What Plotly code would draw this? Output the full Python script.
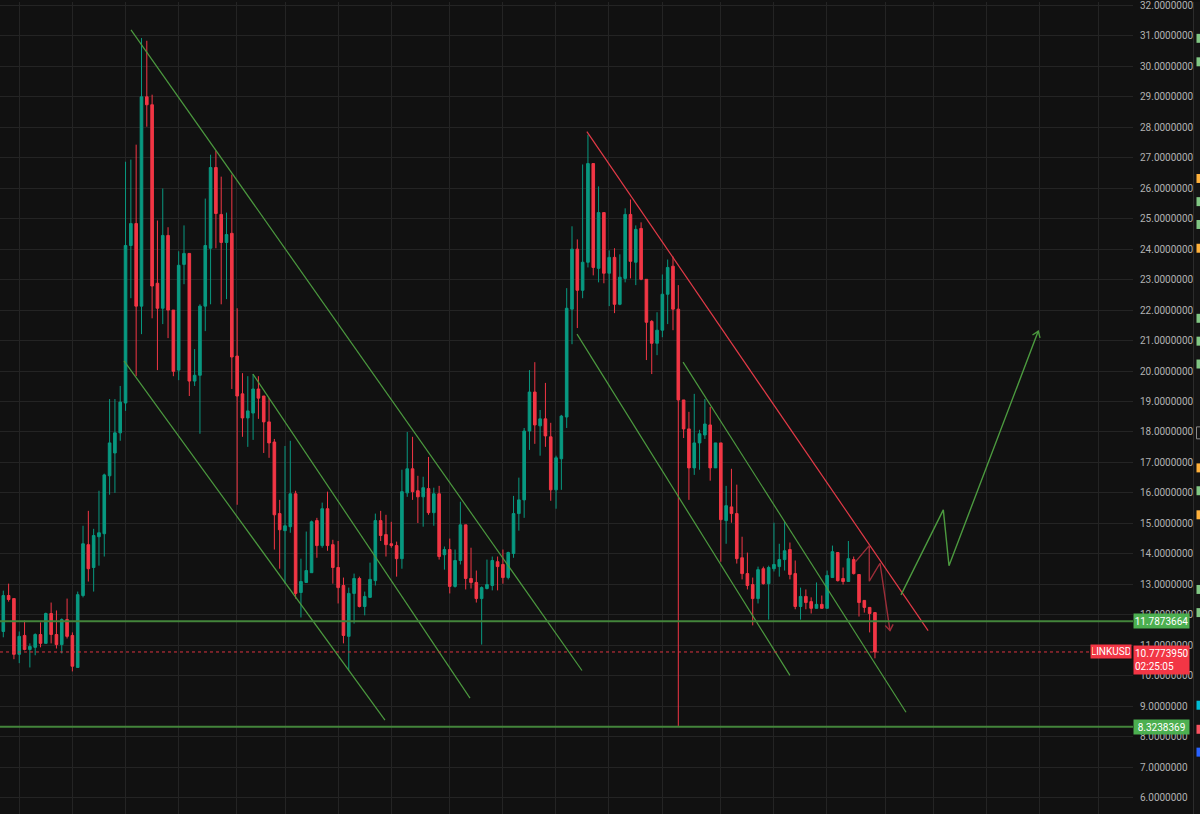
import math
import plotly.graph_objects as go

# ---------------- data (3-day candles, LINKUSD) ----------------
opens = [11.45,12.63,12.53,10.70,11.32,10.86,10.93,11.35,11.06,12.04,11.35,11.02,11.84,11.32,10.27,12.63,14.30,13.55,14.56,14.66,
         16.56,17.31,17.97,18.95,24.12,24.84,22.13,29.00,28.74,22.88,22.06,24.45,22.00,20.03,23.50,23.86,19.67,19.86,22.13,24.03,
         26.68,25.14,24.22,24.52,20.49,19.25,18.46,18.62,19.41,19.18,18.33,17.67,15.32,14.76,14.89,15.97,12.73,13.06,13.38,15.09,
         14.27,15.48,14.30,13.55,12.96,11.29,12.70,13.19,12.27,12.57,13.12,15.09,14.63,14.33,14.27,13.84,16.00,16.79,16.07,15.87,
         16.14,15.35,15.97,13.97,14.14,12.93,13.78,14.95,13.19,13.06,12.53,12.86,12.96,13.74,13.65,13.22,14.01,15.32,15.77,18.03,
         19.31,18.20,18.43,17.84,16.10,17.12,18.49,22.03,24.00,22.65,23.57,26.81,23.37,25.20,23.21,23.73,22.19,23.04,25.14,23.57,
         24.68,23.01,21.63,20.91,21.34,22.52,23.44,22.03,19.05,18.10,16.82,17.64,17.90,18.23,16.82,17.64,15.09,15.54,15.32,13.87,
         13.35,12.99,12.53,13.51,13.02,13.51,13.58,13.81,14.14,13.35,12.27,12.60,12.43,12.21,12.34,12.21,13.22,14.04,13.19,13.09,
         13.81,13.32,12.47,12.24,12.07]
highs = [12.79,13.02,12.53,11.45,11.81,11.06,11.39,11.75,12.07,12.40,12.14,11.88,12.53,11.42,12.76,14.92,15.41,14.82,16.07,16.63,
         19.08,19.08,19.51,26.87,26.94,27.43,30.93,30.84,29.07,24.94,25.99,24.72,22.00,23.93,24.78,23.86,20.72,22.19,25.66,27.10,
         27.23,26.38,25.20,26.45,22.06,19.93,19.83,19.90,19.83,19.18,19.11,17.77,15.77,17.54,17.71,16.07,13.84,14.73,15.09,15.18,
         15.68,16.04,14.46,14.42,13.22,12.89,13.35,13.25,12.76,13.71,15.32,15.41,15.28,15.05,14.40,16.76,18.00,17.84,16.56,16.53,
         17.18,16.17,16.23,14.24,14.50,14.14,15.71,14.95,14.20,13.45,12.93,13.81,13.91,13.91,14.14,14.07,15.90,16.50,18.13,20.03,
         20.29,18.72,19.61,18.30,17.22,18.56,22.72,24.75,24.32,26.78,27.76,26.81,26.06,25.20,23.96,24.03,23.83,25.34,25.63,24.78,
         24.88,23.01,21.67,21.93,23.17,23.66,23.76,22.82,19.05,18.66,19.25,18.07,19.08,18.82,17.64,17.64,16.23,16.79,16.27,14.56,
         14.04,13.22,13.58,13.58,13.61,15.02,14.33,15.05,14.37,13.78,12.89,12.83,12.57,13.06,12.63,13.45,14.27,14.04,13.55,14.42,
         13.91,13.32,12.47,12.24,12.07]
lows = [11.26,12.43,10.54,10.41,10.83,10.27,10.67,10.93,11.06,11.06,10.89,10.73,11.22,10.14,10.27,12.57,13.09,12.76,13.61,13.91,
        15.94,16.00,17.71,18.69,22.39,19.83,21.21,28.02,21.73,20.03,21.54,21.08,19.83,19.70,22.85,19.18,19.51,17.94,21.31,22.19,
        24.03,22.19,22.36,19.41,15.61,17.84,17.51,17.74,18.43,17.31,17.15,14.14,13.51,13.02,14.69,12.53,11.91,13.06,13.38,13.87,
        14.20,14.10,13.02,12.37,11.06,10.17,11.71,12.24,11.98,12.57,12.96,14.42,13.91,14.20,13.25,13.51,15.87,15.77,15.01,14.89,
        15.28,14.92,13.81,13.48,12.70,12.89,13.65,12.83,12.86,12.40,11.02,12.83,12.80,12.80,13.02,13.16,13.87,14.76,15.18,17.41,
        17.61,17.22,17.51,15.74,15.48,16.10,18.13,20.88,21.41,22.39,23.40,23.14,22.91,22.88,22.13,21.90,22.16,22.91,23.04,22.82,
        22.98,20.36,19.90,20.52,21.11,21.54,21.34,8.35,17.80,15.77,16.59,16.76,17.77,16.40,16.82,13.74,14.33,15.02,13.68,13.16,
        12.83,11.65,12.37,12.99,11.84,13.42,13.25,13.45,13.16,12.18,11.84,12.18,12.04,12.21,12.21,12.21,13.22,13.09,12.99,13.09,
        13.32,11.94,12.07,11.42,10.57]
closes = [12.63,12.50,10.70,11.29,10.86,10.96,11.35,11.06,12.04,11.35,11.02,11.84,11.29,10.31,12.66,14.33,13.51,14.60,14.69,16.59,
          17.64,17.97,18.98,24.12,24.84,22.13,29.00,28.74,22.79,22.06,24.45,22.00,19.99,23.47,23.86,19.67,19.86,22.13,24.12,26.68,
          25.17,24.22,24.48,20.46,19.18,18.46,18.69,19.41,19.11,18.33,17.64,15.28,14.79,14.92,15.97,12.70,13.09,13.45,15.05,14.27,
          15.48,14.27,13.55,12.89,11.32,12.70,13.19,12.27,12.60,13.16,15.09,14.60,14.30,14.27,13.84,16.04,16.79,16.04,15.87,16.17,
          15.35,15.97,13.91,14.14,12.93,13.78,14.95,13.19,13.06,12.53,12.89,12.99,13.78,13.58,13.22,14.04,15.32,15.77,18.03,19.31,
          18.23,18.43,17.87,16.10,17.15,18.52,22.06,24.00,22.65,23.57,26.81,23.40,25.20,23.21,23.73,22.19,23.08,25.14,23.60,24.65,
          23.01,21.60,20.91,21.34,22.52,23.40,22.03,19.05,18.10,16.82,17.64,17.94,18.26,16.82,17.64,15.12,15.58,15.32,13.84,13.35,
          12.96,12.53,13.48,13.02,13.55,13.65,13.81,14.10,13.32,12.27,12.60,12.40,12.21,12.34,12.21,13.29,14.07,13.12,13.09,13.84,
          13.35,12.40,12.24,12.04,10.7773950]
bar_index = list(range(len(closes)))

# drawings: (bar index, price) pairs
green_channels = [
    [(24.03, 31.20), (108.88, 10.17)],
    [(22.71, 20.33), (71.81, 8.54)],
    [(46.97, 19.90), (87.81, 9.26)],
    [(107.94, 21.21), (148.0, 10.01)],
    [(127.9, 20.29), (169.84, 8.80)],
]
red_trend = [(109.8, 27.86), (174.0, 11.48)]
red_path_x = [160.24, 162.93, 162.93, 164.95, 166.83]
red_path_y = [13.72, 14.27, 13.10, 13.69, 11.48]
green_path_x = [168.9, 176.86, 177.93, 194.73]
green_path_y = [12.65, 15.44, 13.61, 21.31]

level_upper = 11.7873664
level_lower = 8.3238369
last_price = 10.7773950
countdown = "02:25:05"
symbol = "LINKUSD"
price_ticks = list(range(6, 33))
month_grid = [3.01, 12.98, 22.95, 32.93, 43.84, 53.09, 63.03, 73.0, 83.91, 93.96, 103.9,
              113.83, 124.03, 134.98, 144.87, 154.79, 165.9, 174.98, 185.02, 194.92, 206.02]
# right-edge price-scale markers (price, colour)
edge_markers = [(30.92, "#81c784"), (30.15, "#81c784"), (26.32, "#ffb13b"), (25.56, "#81c784"),
                (24.81, "#81c784"), (24.03, "#ffb13b"), (21.73, "#81c784"), (20.98, "#81c784"),
                (20.23, "#81c784"), (16.82, "#ffb13b"), (16.07, "#81c784"), (15.28, "#ffb13b"),
                (12.83, "#81c784"), (12.07, "#81c784"), (9.03, "#00bcd4"), (8.24, "#f7525f"),
                (7.49, "#2962ff")]

# ---------------- figure ----------------
W, H = 1200, 814
ML, MR, MT, MB = 0, 67, 0, 0
XR = [-0.62, 212.55]
YR = [5.459, 32.113]
PW, PH = W - ML - MR, H - MT - MB
xs = PW / (XR[1] - XR[0])
ys = PH / (YR[1] - YR[0])

BG = "#111111"
GRID = "#242424"
TEAL = "#089981"
RED = "#f23645"
GLINE = "#4c9a3f"
HLINE = "#43853b"

fig = go.Figure()

fig.add_trace(go.Candlestick(
    x=bar_index, open=opens, high=highs, low=lows, close=closes,
    increasing=dict(line=dict(color=TEAL, width=1), fillcolor=TEAL),
    decreasing=dict(line=dict(color=RED, width=1), fillcolor=RED),
    hoverinfo="skip", showlegend=False,
))

for seg in green_channels:
    fig.add_trace(go.Scatter(x=[p[0] for p in seg], y=[p[1] for p in seg], mode="lines",
                             line=dict(color=GLINE, width=1.2), hoverinfo="skip", showlegend=False))
fig.add_trace(go.Scatter(x=[p[0] for p in red_trend], y=[p[1] for p in red_trend], mode="lines",
                         line=dict(color="#e23a47", width=1.2), hoverinfo="skip", showlegend=False))


def chevron(x0, y0, x1, y1, L=7, ang=35):
    dx, dy = (x1 - x0) * xs, -(y1 - y0) * ys
    n = math.hypot(dx, dy)
    ux, uy = -dx / n, -dy / n
    pts_x, pts_y = [], []
    for s in (1, -1):
        a = math.radians(ang * s)
        rx = ux * math.cos(a) - uy * math.sin(a)
        ry = ux * math.sin(a) + uy * math.cos(a)
        pts_x.append(x1 + rx * L / xs)
        pts_y.append(y1 - ry * L / ys)
    return [pts_x[0], x1, pts_x[1]], [pts_y[0], y1, pts_y[1]]


for px, py, col in ((red_path_x, red_path_y, "#9c2d38"), (green_path_x, green_path_y, GLINE)):
    fig.add_trace(go.Scatter(x=px, y=py, mode="lines", line=dict(color=col, width=1.4),
                             hoverinfo="skip", showlegend=False))
    cx, cy = chevron(px[-2], py[-2], px[-1], py[-1])
    fig.add_trace(go.Scatter(x=cx, y=cy, mode="lines", line=dict(color=col, width=1.4),
                             hoverinfo="skip", showlegend=False))

shapes = []
for lv in (level_upper, level_lower):
    shapes.append(dict(type="line", xref="paper", yref="y", x0=0, x1=1, y0=lv, y1=lv,
                       line=dict(color=HLINE, width=2), layer="above"))
shapes.append(dict(type="line", xref="paper", yref="y", x0=0, x1=1090 / PW, y0=last_price, y1=last_price,
                   line=dict(color="#d8323f", width=1, dash="dot"), layer="above"))
# right strip
shapes.append(dict(type="rect", xref="paper", yref="paper", x0=1193 / PW, x1=1.07, y0=0, y1=1,
                   fillcolor="#141414", line=dict(width=0), layer="below"))
shapes.append(dict(type="line", xref="paper", yref="paper", x0=1193.5 / PW, x1=1193.5 / PW, y0=0, y1=1,
                   line=dict(color="#2c2c2c", width=1)))
for pr, col in edge_markers:
    shapes.append(dict(type="rect", xref="paper", yref="y", x0=1196.5 / PW, x1=1.07,
                       y0=pr - 4.5 / ys, y1=pr + 4.5 / ys, fillcolor=col, line=dict(width=0)))
shapes.append(dict(type="rect", xref="paper", yref="y", x0=1196.5 / PW, x1=1.07,
                   y0=17.97 - 6 / ys, y1=17.97 + 6 / ys, fillcolor="rgba(0,0,0,0)",
                   line=dict(color="#8a8a8a", width=1)))

LABEL_FONT = dict(family="Roboto, Arial, sans-serif", size=10, color="white")
annotations = [
    dict(xref="paper", yref="y", x=1, y=level_upper, xanchor="left", yanchor="middle",
         text=f"{level_upper:.7f}", showarrow=False, bgcolor="#4caf50", font=LABEL_FONT,
         width=53, height=12, borderpad=1),
    dict(xref="paper", yref="y", x=1, y=level_lower, xanchor="left", yanchor="middle",
         text=f"{level_lower:.7f}", showarrow=False, bgcolor="#4caf50", font=LABEL_FONT,
         width=53, height=12, borderpad=1),
    dict(xref="paper", yref="y", x=1, y=last_price, xanchor="left", yanchor="top", yshift=7,
         text=f"{last_price:.7f}<br>{countdown}", showarrow=False, bgcolor=RED, font=LABEL_FONT,
         width=53, height=26, borderpad=1, align="left"),
    dict(xref="paper", yref="y", x=1, y=last_price, xanchor="right", yanchor="middle", xshift=-1,
         text=symbol, showarrow=False, bgcolor=RED, font=LABEL_FONT, width=38, height=11, borderpad=1),
]

fig.update_layout(
    width=W, height=H,
    margin=dict(l=ML, r=MR, t=MT, b=MB),
    paper_bgcolor=BG, plot_bgcolor=BG,
    boxgap=0.3,
    showlegend=False,
    shapes=shapes, annotations=annotations,
    xaxis=dict(range=XR, rangeslider=dict(visible=False), showticklabels=False, ticks="",
               tickvals=month_grid, showgrid=True, gridcolor=GRID, gridwidth=1, zeroline=False,
               showline=False, fixedrange=True),
    yaxis=dict(range=YR, side="right", tickvals=price_ticks, tickformat=".7f", ticks="",
               showgrid=True, gridcolor=GRID, gridwidth=1, zeroline=False, showline=False,
               tickfont=dict(family="Roboto, Arial, sans-serif", size=10, color="#b2b2b2"),
               ticklabelstandoff=6, ticklabeloverflow="allow", fixedrange=True),
)

fig.write_html("out.html", config={"displayModeBar": False},
               post_script="document.body.style.margin='0';document.body.style.overflow='hidden';"
                           "document.body.style.background='#111111';")
